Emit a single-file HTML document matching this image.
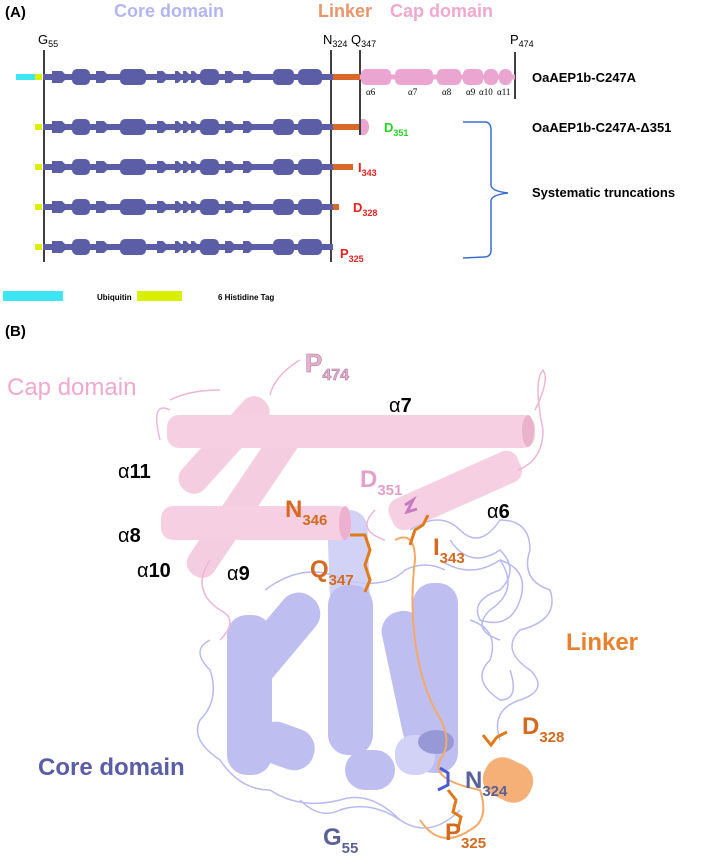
<!DOCTYPE html>
<html><head><meta charset="utf-8"><style>
body{margin:0;background:#fff;}
svg{display:block;font-family:"Liberation Sans",sans-serif;}
</style></head><body>
<svg width="709" height="864" viewBox="0 0 709 864" xmlns="http://www.w3.org/2000/svg">
<defs>
<g id="core">
<rect x="43" y="-3" width="290" height="6" fill="#5b5ea6"/>
<polygon points="52,-6 62,-6 68,0 62,6 52,6" fill="#5b5ea6"/>
<rect x="72" y="-8" width="18" height="16" rx="5" fill="#5b5ea6"/>
<polygon points="96,-6 104,-6 110,0 104,6 96,6" fill="#5b5ea6"/>
<rect x="120" y="-8" width="26" height="16" rx="5" fill="#5b5ea6"/>
<polygon points="157,-6 163,-6 169,0 163,6 157,6" fill="#5b5ea6"/>
<polygon points="175,-6 178,-6 184,0 178,6 175,6" fill="#5b5ea6"/>
<polygon points="183,-6 186,-6 192,0 186,6 183,6" fill="#5b5ea6"/>
<polygon points="191,-6 194,-6 200,0 194,6 191,6" fill="#5b5ea6"/>
<rect x="200" y="-8" width="19" height="16" rx="5" fill="#5b5ea6"/>
<polygon points="225,-6 231,-6 237,0 231,6 225,6" fill="#5b5ea6"/>
<polygon points="243,-6 249,-6 255,0 249,6 243,6" fill="#5b5ea6"/>
<rect x="273" y="-8" width="21" height="16" rx="5" fill="#5b5ea6"/>
<rect x="298" y="-8" width="24" height="16" rx="5" fill="#5b5ea6"/>
</g>
</defs>
<text x="5" y="17" font-size="15" font-weight="bold">(A)</text>
<text x="114" y="17" font-size="18" font-weight="bold" fill="#b3b6f2">Core domain</text>
<text x="318" y="17" font-size="18" font-weight="bold" fill="#e8956a">Linker</text>
<text x="390" y="17" font-size="18" font-weight="bold" fill="#f0a8cf">Cap domain</text>
<text x="38" y="44" font-size="13">G<tspan font-size="9" dy="3">55</tspan></text>
<text x="323" y="44" font-size="13">N<tspan font-size="9" dy="3">324</tspan></text>
<text x="351" y="44" font-size="13">Q<tspan font-size="9" dy="3">347</tspan></text>
<text x="510" y="44" font-size="13">P<tspan font-size="9" dy="3">474</tspan></text>
<line x1="44" y1="50" x2="44" y2="262" stroke="#000" stroke-width="1.5"/>
<line x1="331" y1="50" x2="331" y2="262" stroke="#000" stroke-width="1.5"/>
<line x1="360" y1="50" x2="360" y2="135" stroke="#000" stroke-width="1.5"/>
<line x1="515" y1="52" x2="515" y2="99" stroke="#000" stroke-width="1.5"/>
<g transform="translate(0,77)">
<rect x="16" y="-3" width="19" height="6" fill="#3de6f2"/><rect x="35" y="-3" width="7" height="6" fill="#d9f000"/>
<use href="#core"/>
<rect x="333" y="-3" width="27" height="6" fill="#d9692a"/>
<rect x="360" y="-2.5" width="155" height="5" fill="#eaa5d0"/>
<rect x="361" y="-8" width="30" height="16" rx="5" fill="#eaa5d0"/>
<rect x="395" y="-8" width="38" height="16" rx="5" fill="#eaa5d0"/>
<rect x="437" y="-8" width="24" height="16" rx="5" fill="#eaa5d0"/>
<rect x="463" y="-8" width="20" height="16" rx="5" fill="#eaa5d0"/>
<rect x="484" y="-8" width="14" height="16" rx="6" fill="#eaa5d0"/>
<rect x="499" y="-8" width="13" height="16" rx="6" fill="#eaa5d0"/>
</g>
<g font-family="Liberation Serif,serif" font-size="9">
<text x="366" y="95">α6</text><text x="408" y="95">α7</text><text x="442" y="95">α8</text><text x="466" y="95">α9</text><text x="479" y="95">α10</text><text x="497" y="95">α11</text></g>
<g transform="translate(0,127)">
<rect x="35" y="-3" width="7" height="6" fill="#d9f000"/><use href="#core"/>
<rect x="333" y="-3" width="26" height="6" fill="#d9692a"/>
<path d="M361,-8 L364,-8 A5,8 0 0 1 364,8 L361,8 Z" fill="#eaa5d0"/>
</g>
<text x="384" y="132" font-size="13" font-weight="bold" fill="#22d622">D<tspan font-size="9" dy="4">351</tspan></text>
<g transform="translate(0,167)">
<rect x="35" y="-3" width="7" height="6" fill="#d9f000"/><use href="#core"/>
<rect x="333" y="-3" width="20" height="6" fill="#d9692a"/></g>
<text x="358" y="172" font-size="13" font-weight="bold" fill="#e82020">I<tspan font-size="9" dy="4">343</tspan></text>
<g transform="translate(0,207)">
<rect x="35" y="-3" width="7" height="6" fill="#d9f000"/><use href="#core"/>
<rect x="333" y="-3" width="6" height="6" fill="#d9692a"/></g>
<text x="353" y="212" font-size="13" font-weight="bold" fill="#e82020">D<tspan font-size="9" dy="4">328</tspan></text>
<g transform="translate(0,247)">
<rect x="35" y="-3" width="7" height="6" fill="#d9f000"/><use href="#core"/></g>
<text x="340" y="258" font-size="13" font-weight="bold" fill="#e82020">P<tspan font-size="9" dy="4">325</tspan></text>
<path d="M463,122 L486,122 Q491,123 491,130 L491,185 Q491,191 508,193 Q491,195 491,201 L491,250 Q491,257 484,257 L463,258" fill="none" stroke="#3a6fd0" stroke-width="1.5"/>
<g font-size="13" font-weight="bold">
<text x="532" y="82">OaAEP1b-C247A</text>
<text x="532" y="132">OaAEP1b-C247A-Δ351</text>
<text x="532" y="197">Systematic truncations</text></g>
<rect x="3" y="291" width="60" height="10" fill="#3de6f2"/>
<text x="97" y="300" font-size="8" font-weight="bold">Ubiquitin</text>
<rect x="137" y="291" width="45" height="10" fill="#d9f000"/>
<text x="218" y="300" font-size="8" font-weight="bold">6 Histidine Tag</text>

<!-- Panel B -->
<text x="5" y="336" font-size="15" font-weight="bold">(B)</text>
<text x="7" y="395" font-size="24" fill="#f0a8cf">Cap domain</text>
<!-- blue loops -->
<g fill="none" stroke="#b7baf0" stroke-width="1.5">
<path d="M410,530 q30,-20 50,0 q20,20 40,-10 q30,0 30,30 q-10,30 20,40 q10,30 -30,40 q-20,20 10,40 q20,20 -10,30 q-30,10 -20,40"/>
<path d="M450,540 q20,30 50,10 q20,20 0,40 q-30,10 -20,30 q30,10 40,-20 q10,-30 -20,-40"/>
<path d="M470,620 q30,10 20,40 q-20,20 10,40 q20,0 10,-30"/>
<path d="M210,640 q-20,10 0,30 q10,30 -10,50 q-10,20 20,40 q20,30 50,30 q30,20 70,10 q30,-10 60,20"/>
<path d="M440,560 q30,20 60,0 q20,30 -10,50 q-20,20 10,30"/>
<path d="M265,590 q40,-30 80,-10 q40,10 60,-10 q20,-10 40,0"/>
<path d="M300,800 q20,20 40,10 q30,-10 60,10 q30,20 60,-10"/>
</g>
<!-- core cylinders -->
<g fill="#b3b5ee" opacity="0.85">
<rect x="330" y="510" width="40" height="190" rx="18" transform="rotate(-2 350 600)" fill="#c9cbf5"/>
<rect x="227" y="615" width="45" height="160" rx="20"/>
<rect x="256" y="585" width="42" height="110" rx="20" transform="rotate(40 277 640)"/>
<rect x="328" y="585" width="45" height="170" rx="20"/>
<rect x="392" y="610" width="42" height="140" rx="20" transform="rotate(-12 413 680)"/>
<rect x="413" y="583" width="45" height="190" rx="20"/>
<rect x="255" y="725" width="60" height="42" rx="20" transform="rotate(20 285 746)"/>
<rect x="345" y="750" width="50" height="40" rx="20"/>
<rect x="395" y="735" width="40" height="40" rx="18" fill="#c9cbf5"/>
</g>
<ellipse cx="436" cy="742" rx="18" ry="12" fill="#9799d6"/>
<!-- pink cap cylinders -->
<g fill="#f5c8de" opacity="0.9">
<rect x="209" y="385" width="30" height="120" rx="14" transform="rotate(42 224 445)"/>
<rect x="228" y="415" width="30" height="175" rx="14" transform="rotate(34 243 502)"/>
</g>
<g fill="#f7cfe3">
<rect x="167" y="415" width="368" height="33" rx="12"/>
<rect x="385" y="474" width="140" height="33" rx="12" transform="rotate(-24 455 490)"/>
<rect x="161" y="506" width="190" height="34" rx="12"/>
</g>
<ellipse cx="528" cy="431" rx="6" ry="16" fill="#e9b3cc"/>
<ellipse cx="345" cy="523" rx="6" ry="17" fill="#eeb0cf"/>
<path d="M170,410 q-20,-10 -10,30 M535,410 q15,-30 8,-40 q-10,10 0,60 q0,30 -25,40 M220,390 q-30,0 -50,10 M210,560 q-20,30 10,50 q20,10 0,30 M270,395 q5,-20 30,-35 M375,510 q-20,20 10,30" fill="none" stroke="#f0b5d3" stroke-width="1.5"/>
<!-- linker -->
<path d="M395,540 q20,-10 20,20 q-5,40 0,80 q5,40 20,70 q20,30 5,50 q-10,20 40,30 q10,30 -10,40 q-30,20 -50,-10" fill="none" stroke="#f3aa66" stroke-width="2"/>
<rect x="483" y="760" width="50" height="40" rx="18" fill="#f5b077" transform="rotate(25 508 780)"/>
<!-- sticks -->
<g fill="none" stroke="#e07a1a" stroke-width="3">
<path d="M350,535 l15,0 l5,15 l-5,15 l5,15 l-5,12"/>
<path d="M410,545 l5,-15 l8,-5 l5,-10"/>
<path d="M483,735 l8,10 l6,-8 l10,-5"/>
<path d="M448,790 l8,10 l-3,12 l8,5 l-3,12"/>
</g>
<path d="M405,505 l8,-5 l-6,12 l10,-3" fill="none" stroke="#c77cc0" stroke-width="3"/>
<path d="M440,768 l8,5 l0,12 l-10,5" fill="none" stroke="#4a5bd0" stroke-width="3"/>
<!-- labels -->
<text x="305" y="372" font-size="26" font-weight="bold" fill="#e8b0d0" stroke="#a07090" stroke-width="0.5">P<tspan font-size="16" dy="8">474</tspan></text>
<text x="389" y="412" font-size="20">α<tspan font-weight="bold">7</tspan></text>
<text x="118" y="478" font-size="20">α<tspan font-weight="bold">11</tspan></text>
<text x="118" y="542" font-size="20">α<tspan font-weight="bold">8</tspan></text>
<text x="137" y="577" font-size="20">α<tspan font-weight="bold">10</tspan></text>
<text x="227" y="580" font-size="20">α<tspan font-weight="bold">9</tspan></text>
<text x="487" y="518" font-size="20">α<tspan font-weight="bold">6</tspan></text>
<g font-weight="bold" font-size="24">
<text x="360" y="487" fill="#e4a0c8">D<tspan font-size="15" dy="8">351</tspan></text>
<text x="285" y="517" fill="#d4691f">N<tspan font-size="15" dy="8">346</tspan></text>
<text x="310" y="577" fill="#d4691f">Q<tspan font-size="15" dy="8">347</tspan></text>
<text x="433" y="555" fill="#d4691f">I<tspan font-size="15" dy="8">343</tspan></text>
<text x="522" y="734" fill="#d4691f">D<tspan font-size="15" dy="8">328</tspan></text>
<text x="465" y="788" fill="#5c6099">N<tspan font-size="15" dy="8">324</tspan></text>
<text x="445" y="840" fill="#d4691f">P<tspan font-size="15" dy="8">325</tspan></text>
<text x="323" y="845" fill="#5c6099">G<tspan font-size="15" dy="8">55</tspan></text>
<text x="566" y="650" fill="#e8802c">Linker</text>
<text x="38" y="775" fill="#5b5ea6">Core domain</text>
</g>
</svg>
</body></html>
